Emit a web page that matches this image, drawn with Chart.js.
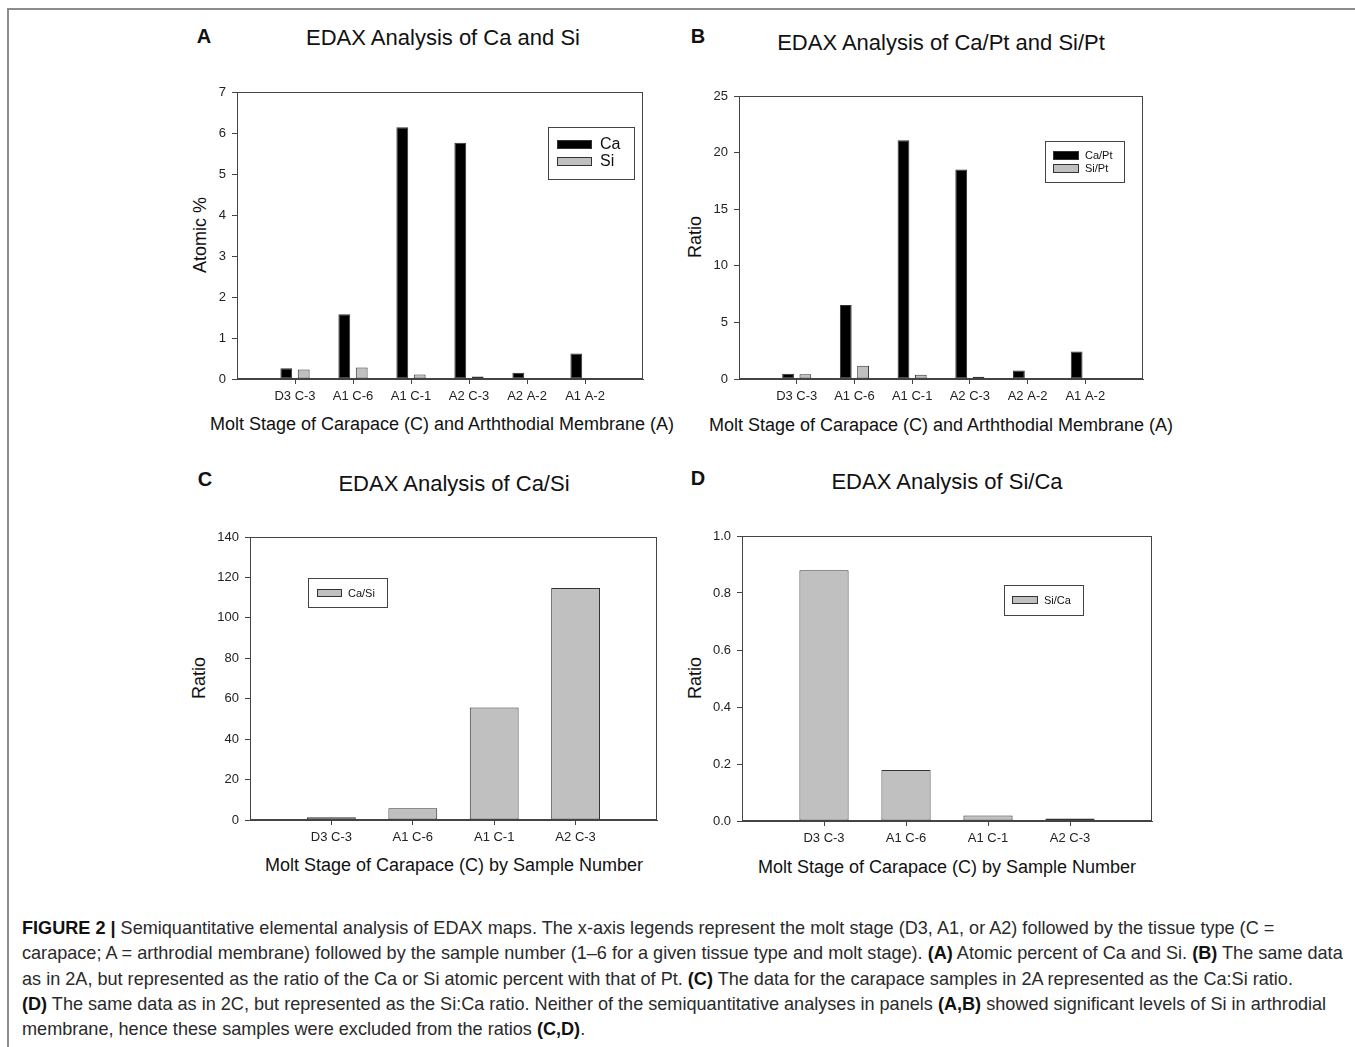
<!DOCTYPE html>
<html><head><meta charset="utf-8">
<script src="https://cdn.jsdelivr.net/npm/chart.js@4.4.0/dist/chart.umd.min.js"></script>
<style>
html,body{margin:0;padding:0;background:#fff;}
body{width:1355px;height:1047px;position:relative;overflow:hidden;font-family:"Liberation Sans",Arial,Helvetica,sans-serif;color:#111;}
.frame{position:absolute;left:7px;top:8px;width:1400px;height:1100px;border-top:2px solid #8c8c8c;border-left:2px solid #8c8c8c;}
canvas{position:absolute;}
.t{position:absolute;white-space:nowrap;line-height:1;transform:translate(-50%,-50%);}
.letter{font-size:20px;font-weight:bold;}
.title{font-size:22px;}
.axt{font-size:18px;}
.yt{transform:translate(-50%,-50%) rotate(-90deg);}
.cap{position:absolute;left:22px;top:916px;font-size:18.1px;line-height:25.3px;color:#2a2a2a;white-space:nowrap;}
.cap b{color:#111;}
</style></head>
<body>
<div class="frame"></div>

<div class="t letter" style="left:204px;top:36px">A</div>
<div class="t title" style="left:443px;top:38px">EDAX Analysis of Ca and Si</div>
<div class="t letter" style="left:698px;top:36px">B</div>
<div class="t title" style="left:941px;top:43px">EDAX Analysis of Ca/Pt and Si/Pt</div>
<div class="t letter" style="left:205px;top:479px">C</div>
<div class="t title" style="left:454px;top:484px">EDAX Analysis of Ca/Si</div>
<div class="t letter" style="left:698px;top:478px">D</div>
<div class="t title" style="left:947px;top:482px">EDAX Analysis of Si/Ca</div>

<div class="t axt" style="left:442px;top:424px">Molt Stage of Carapace (C) and Arththodial Membrane (A)</div>
<div class="t axt yt" style="left:200px;top:235px">Atomic %</div>
<div class="t axt" style="left:941px;top:425px">Molt Stage of Carapace (C) and Arththodial Membrane (A)</div>
<div class="t axt yt" style="left:695px;top:237px">Ratio</div>
<div class="t axt" style="left:454px;top:865px">Molt Stage of Carapace (C) by Sample Number</div>
<div class="t axt yt" style="left:199px;top:678px">Ratio</div>
<div class="t axt" style="left:947px;top:867px">Molt Stage of Carapace (C) by Sample Number</div>
<div class="t axt yt" style="left:695px;top:678px">Ratio</div>

<div class="cap">
<div><b>FIGURE 2 |</b> Semiquantitative elemental analysis of EDAX maps. The x-axis legends represent the molt stage (D3, A1, or A2) followed by the tissue type (C =</div>
<div>carapace; A = arthrodial membrane) followed by the sample number (1–6 for a given tissue type and molt stage). <b>(A)</b> Atomic percent of Ca and Si. <b>(B)</b> The same data</div>
<div>as in 2A, but represented as the ratio of the Ca or Si atomic percent with that of Pt. <b>(C)</b> The data for the carapace samples in 2A represented as the Ca:Si ratio.</div>
<div><b>(D)</b> The same data as in 2C, but represented as the Si:Ca ratio. Neither of the semiquantitative analyses in panels <b>(A,B)</b> showed significant levels of Si in arthrodial</div>
<div>membrane, hence these samples were excluded from the ratios <b>(C,D)</b>.</div>
</div>

<script>
// ---- data ----
const categoriesAB = ['D3 C-3','A1 C-6','A1 C-1','A2 C-3','A2 A-2','A1 A-2'];
const categoriesCD = ['D3 C-3','A1 C-6','A1 C-1','A2 C-3'];
const caAtomic = [0.26, 1.58, 6.14, 5.76, 0.15, 0.62];
const siAtomic = [0.23, 0.28, 0.11, 0.06, null, null];
const caPt = [0.47, 6.53, 21.1, 18.5, 0.74, 2.44];
const siPt = [0.41, 1.18, 0.38, 0.2, null, null];
const caSi = [1.3, 5.8, 55.7, 114.8];
const siCa = [0.88, 0.179, 0.019, 0.009];
const yAxisA = {min: 0, max: 7, step: 1};
const yAxisB = {min: 0, max: 25, step: 5};
const yAxisC = {min: 0, max: 140, step: 20};
const yAxisD = {min: 0, max: 1.0, step: 0.2};

// ---- styles ----
const BLACK = '#000000', GREY = '#c0c0c0', EDGE = '#333333', AX = '#444444';
const FONT = '"Liberation Sans", Arial, Helvetica, sans-serif';

const framePlugin = {
  id: 'framePlugin',
  afterDatasetsDraw(chart) {
    const {ctx, chartArea: a} = chart;
    ctx.save();
    ctx.strokeStyle = AX; ctx.lineWidth = 1;
    const l = Math.round(a.left) + 0.5, t = Math.round(a.top) + 0.5;
    const r = Math.round(a.right) - 0.5, b = Math.round(a.bottom) - 0.5;
    ctx.strokeRect(l, t, r - l, b - t);
    ctx.restore();
  }
};

const boxLegend = {
  id: 'boxLegend',
  afterDraw(chart, args, o) {
    const ctx = chart.ctx;
    const ox = o.canvasLeft, oy = o.canvasTop;
    ctx.save();
    ctx.fillStyle = '#fff';
    ctx.fillRect(o.box[0] - ox, o.box[1] - oy, o.box[2] - o.box[0], o.box[3] - o.box[1]);
    ctx.strokeStyle = AX; ctx.lineWidth = 1;
    ctx.strokeRect(o.box[0] - ox + 0.5, o.box[1] - oy + 0.5, o.box[2] - o.box[0], o.box[3] - o.box[1]);
    ctx.font = o.fontSize + 'px ' + FONT;
    ctx.textBaseline = 'middle'; ctx.textAlign = 'left';
    chart.data.datasets.forEach((ds, i) => {
      const sy = o.rows[i] - oy;
      const sx = o.sx - ox;
      ctx.fillStyle = ds.backgroundColor;
      ctx.fillRect(sx, sy, o.sw, o.sh);
      ctx.strokeStyle = ds.borderColor;
      ctx.strokeRect(sx + 0.5, sy + 0.5, o.sw - 1, o.sh - 1);
      ctx.fillStyle = '#111';
      ctx.fillText(ds.label, o.tx - ox, sy + o.sh / 2 + 0.5);
    });
    ctx.restore();
  }
};

function makeChart(p) {
  const cv = document.createElement('canvas');
  cv.width = p.right - p.left; cv.height = p.bottom - p.top;
  cv.style.left = p.left + 'px'; cv.style.top = p.top + 'px';
  document.body.appendChild(cv);
  const labels = [''].concat(p.categories).concat(['']);
  const n = labels.length;
  const datasets = p.series.map(s => ({
    label: s.label,
    data: [null].concat(s.values).concat([null]),
    backgroundColor: s.color,
    borderColor: EDGE,
    borderWidth: 1,
    borderSkipped: false,
    categoryPercentage: p.catPct,
    barPercentage: p.barPct
  }));
  new Chart(cv, {
    type: 'bar',
    data: {labels, datasets},
    plugins: [framePlugin, boxLegend],
    options: {
      responsive: false, animation: false, devicePixelRatio: 1,
      layout: {padding: {top: p.ca.t - p.top, right: p.right - p.ca.r, left: 0, bottom: 0}},
      plugins: {
        legend: {display: false}, tooltip: {enabled: false},
        boxLegend: Object.assign({canvasLeft: p.left, canvasTop: p.top}, p.legend)
      },
      scales: {
        x: {
          type: 'category', offset: false,
          grid: {display: true, offset: false, drawOnChartArea: false, drawTicks: true, tickLength: 5,
                 color: c => (c.index === 0 || c.index === n - 1) ? 'rgba(0,0,0,0)' : AX},
          border: {display: true, color: AX, width: 1},
          ticks: {color: '#222', font: {family: FONT, size: 13}, padding: 5, maxRotation: 0, autoSkip: false},
          afterFit: s => { s.height = p.bottom - p.ca.b; }
        },
        y: {
          min: p.y.min, max: p.y.max,
          grid: {display: true, drawOnChartArea: false, drawTicks: true, tickLength: 5, color: AX},
          border: {display: true, color: AX, width: 1},
          ticks: {stepSize: p.y.step, color: '#222', font: {family: FONT, size: 13}, padding: 6,
                  callback: v => p.fmt ? Number(v).toFixed(1) : v},
          afterFit: s => { s.width = p.ca.l - p.left; }
        }
      }
    }
  });
}

makeChart({
  left: 185, top: 77, right: 660, bottom: 445,
  ca: {l: 237, t: 92, r: 643, b: 379},
  categories: categoriesAB, y: yAxisA, catPct: 0.6, barPct: 0.68,
  series: [{label: 'Ca', values: caAtomic, color: BLACK}, {label: 'Si', values: siAtomic, color: GREY}],
  legend: {box: [548, 127, 634, 179], sx: 557, sw: 35, sh: 9, rows: [140, 157], tx: 600, fontSize: 16}
});
makeChart({
  left: 685, top: 81, right: 1160, bottom: 445,
  ca: {l: 739, t: 96, r: 1143, b: 379},
  categories: categoriesAB, y: yAxisB, catPct: 0.6, barPct: 0.68,
  series: [{label: 'Ca/Pt', values: caPt, color: BLACK}, {label: 'Si/Pt', values: siPt, color: GREY}],
  legend: {box: [1045, 141, 1124, 182], sx: 1053, sw: 26, sh: 9, rows: [151, 164], tx: 1085, fontSize: 11}
});
makeChart({
  left: 185, top: 521, right: 672, bottom: 885,
  ca: {l: 250, t: 537, r: 657, b: 820},
  categories: categoriesCD, y: yAxisC, catPct: 0.6, barPct: 1.0,
  series: [{label: 'Ca/Si', values: caSi, color: GREY}],
  legend: {box: [308, 578, 387, 607], sx: 317, sw: 25, sh: 8, rows: [589], tx: 348, fontSize: 11}
});
makeChart({
  left: 680, top: 521, right: 1167, bottom: 885,
  ca: {l: 742, t: 536, r: 1152, b: 821},
  categories: categoriesCD, y: yAxisD, catPct: 0.6, barPct: 1.0, fmt: true,
  series: [{label: 'Si/Ca', values: siCa, color: GREY}],
  legend: {box: [1004, 585, 1083, 615], sx: 1012, sw: 26, sh: 8, rows: [596], tx: 1044, fontSize: 11}
});
</script>
</body></html>
